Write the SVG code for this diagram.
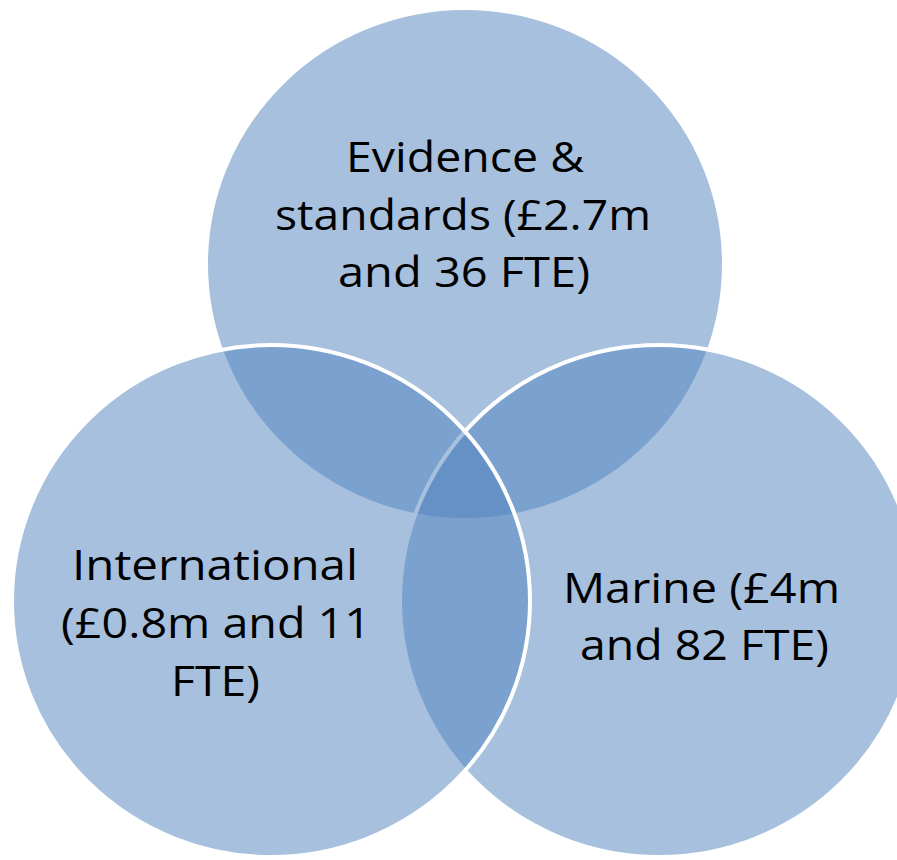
<svg xmlns="http://www.w3.org/2000/svg" width="897" height="860" viewBox="0 0 897 860">
<style>
.c{fill:#4F81BD;fill-opacity:0.5;stroke:#FFFFFF;stroke-width:4}
.t{font-family:"Open Sans","Noto Sans","Liberation Sans",sans-serif;font-size:42px;fill:#000000}
</style>
<rect width="897" height="860" fill="#FFFFFF"/>
<g id="evidence">
<ellipse class="c" cx="465" cy="264" rx="259" ry="256"/>
<text class="t"><tspan x="346" y="172" textLength="238" lengthAdjust="spacingAndGlyphs">Evidence &amp;</tspan></text>
<text class="t"><tspan x="275" y="230" textLength="376" lengthAdjust="spacingAndGlyphs">standards (£2.7m</tspan></text>
<text class="t"><tspan x="338" y="287" textLength="252" lengthAdjust="spacingAndGlyphs">and 36 FTE)</tspan></text>
</g>
<g id="marine">
<ellipse class="c" cx="659" cy="601" rx="259" ry="256"/>
<text class="t"><tspan x="563" y="603" textLength="277" lengthAdjust="spacingAndGlyphs">Marine (£4m</tspan></text>
<text class="t"><tspan x="580" y="660" textLength="249" lengthAdjust="spacingAndGlyphs">and 82 FTE)</tspan></text>
</g>
<g id="international">
<ellipse class="c" cx="271" cy="601" rx="259" ry="256"/>
<text class="t"><tspan x="72" y="580" textLength="286" lengthAdjust="spacingAndGlyphs">International</tspan></text>
<text class="t"><tspan x="61" y="638" textLength="310" lengthAdjust="spacingAndGlyphs">(£0.8m and 11</tspan></text>
<text class="t"><tspan x="171" y="696" textLength="89" lengthAdjust="spacingAndGlyphs">FTE)</tspan></text>
</g>
<g id="connectors"/>
</svg>
